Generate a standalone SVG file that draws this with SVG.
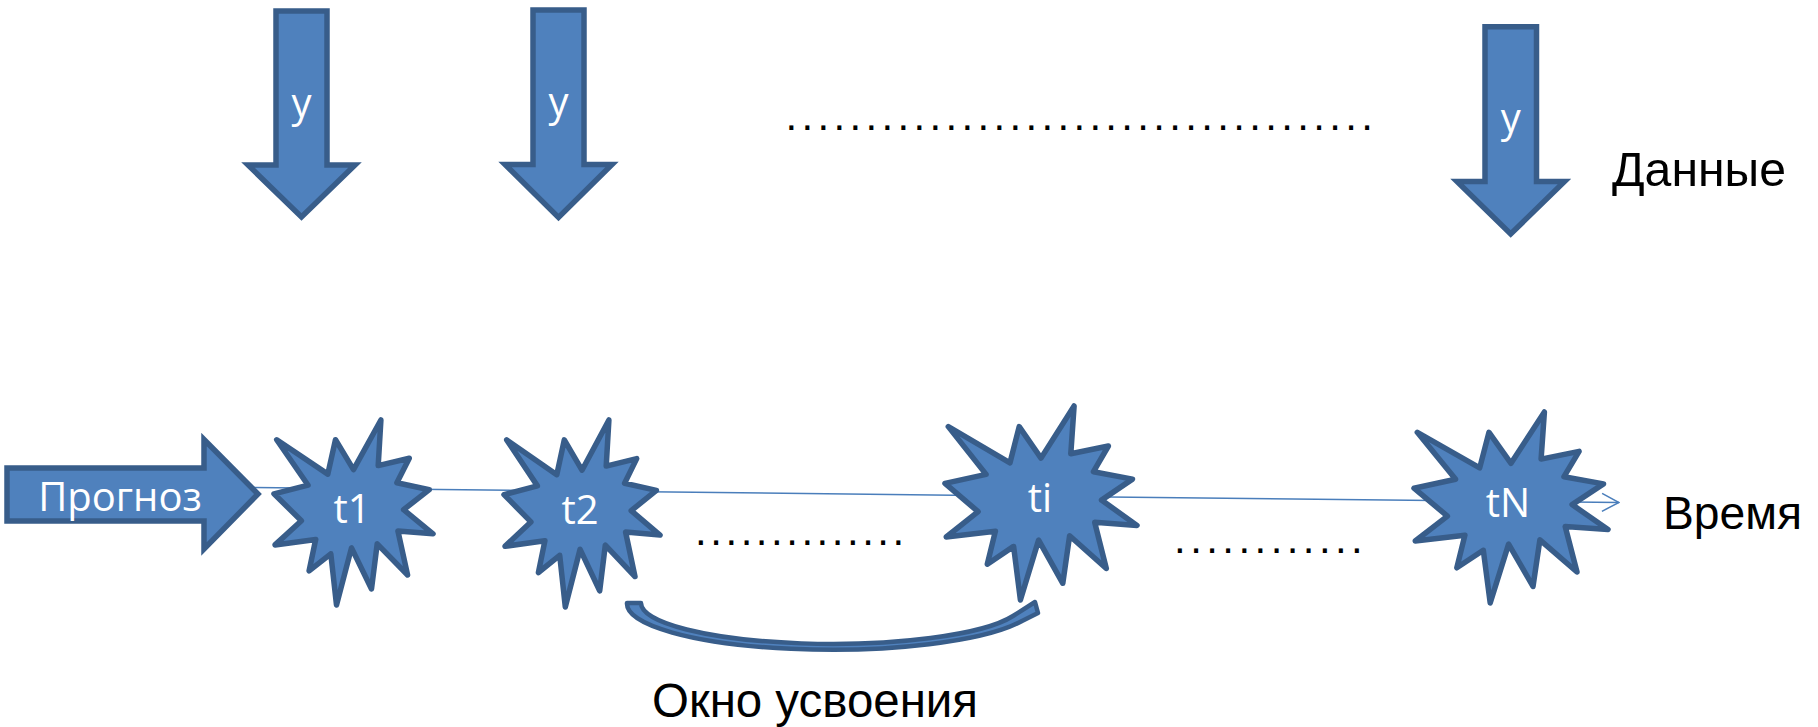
<svg xmlns="http://www.w3.org/2000/svg" width="1818" height="727" viewBox="0 0 1818 727">
<style>
.shape{fill:#4F81BD;stroke:#385D8A;stroke-width:5.5;stroke-linejoin:miter}
.star{fill:#4F81BD;stroke:#385D8A;stroke-width:5.5;stroke-linejoin:round}
.wl{font-family:"Open Sans","Noto Sans",sans-serif;font-size:40px;fill:#FFFFFF;text-anchor:middle}
.bl{font-family:"Liberation Sans",Arial,sans-serif;fill:#000000}
.dots{font-family:"Liberation Sans",Arial,sans-serif;font-size:42px;fill:#000000}
.conn{stroke:#4A7EBB;stroke-width:1.5;fill:none}
</style>
<defs>
<marker id="openArrow" viewBox="0 0 20 20" refX="19" refY="10" markerWidth="20" markerHeight="20" markerUnits="userSpaceOnUse" orient="auto">
<path d="M2,1 L19,10 L2,19" fill="none" stroke="#4A7EBB" stroke-width="1.5"/>
</marker>
</defs>
<rect width="1818" height="727" fill="#FFFFFF"/>

<g id="connectors">
<line class="conn" x1="253" y1="487.5" x2="1619" y2="502.5" marker-end="url(#openArrow)"/>
</g>

<g id="forecast">
<polygon class="shape" points="7,468 204,468 204,439.5 258,494 204,549 204,521 7,521"/>
<text class="wl" x="120" y="511" font-size="40.5">Прогноз</text>
</g>

<g id="data1">
<polygon class="shape" points="276,11 327,11 327,165 355,165 301.5,217 248,165 276,165"/>
<text class="wl" x="301.5" y="117">y</text>
</g>
<g id="data2">
<polygon class="shape" points="533,10 584,10 584,164.5 612,164.5 558.5,217.5 505,164.5 533,164.5"/>
<text class="wl" x="558.5" y="116">y</text>
</g>
<g id="data3">
<polygon class="shape" points="1485,26.7 1536.5,26.7 1536.5,181.5 1564.5,181.5 1510.7,234 1457,181.5 1485,181.5"/>
<text class="wl" x="1510.7" y="132">y</text>
</g>

<g id="t1">
<polygon class="star" points="353.5,469.7 380.9,420 378.2,465.6 409.3,458.2 396.9,482.7 429.3,489.7 403.6,509.7 433,533.8 397.9,530.9 407.6,575 377.2,543.8 371.5,589 351.5,547.9 336.5,605 330.8,553.8 309.1,570.9 315.7,539.4 275,544.9 301.4,520.8 274,493.8 308.1,485.2 276.7,439.7 327.8,474.1 335.5,439.7"/>
<text class="wl" x="352" y="523">t1</text>
</g>
<g id="t2">
<polygon class="star" points="582,470.2 608.9,420 606.2,466.1 636.7,458.6 624.6,483.3 656.4,490.4 631.2,510.7 660,535.1 625.6,532.1 635,576.6 605.3,545.2 599.7,590.9 580.1,549.3 565.3,607 559.7,555.3 538.4,572.5 544.9,540.7 505,546.3 530.9,521.9 504,494.6 537.4,485.9 506.7,439.9 556.8,474.7 564.3,439.9"/>
<text class="wl" x="580" y="524">t2</text>
</g>
<g id="ti">
<polygon class="star" points="1041,458.1 1074.1,406 1070.8,453.8 1108.4,446 1093.5,471.7 1132.5,479.1 1101.5,500.1 1137,525.4 1094.7,522.3 1106.3,568.5 1069.6,535.8 1062.8,583.3 1038.6,540.1 1020.4,600 1013.6,546.4 987.3,564.2 995.4,531.2 946.2,537 978.1,511.7 945,483.4 986.1,474.4 948.3,426.6 1010,462.8 1019.2,426.6"/>
<text class="wl" x="1040" y="512">ti</text>
</g>
<g id="tN">
<polygon class="star" points="1511,463.3 1544.4,412 1541.1,459.1 1579.1,451.4 1564,476.7 1603.5,483.9 1572.1,504.6 1608,529.5 1565.2,526.5 1577,572 1539.9,539.8 1533,586.5 1508.6,544.1 1490.2,603 1483.3,550.2 1456.8,567.8 1464.9,535.2 1415.2,541 1447.4,516.1 1414,488.2 1455.6,479.3 1417.3,432.3 1479.7,467.9 1489,432.3"/>
<text class="wl" x="1508" y="517">tN</text>
</g>

<g id="window">
<path class="star" style="stroke-width:4.5" d="M627,603 A205,46 0 0 0 1022,621 L1038,613 L1035,602 L1013,616 A191,41 0 0 1 641,603 Z"/>
</g>

<g id="labels">
<text class="bl" x="1612" y="186" font-size="48" textLength="174" lengthAdjust="spacingAndGlyphs">Данные</text>
<text class="bl" x="1663" y="529" font-size="47" textLength="139" lengthAdjust="spacingAndGlyphs">Время</text>
<text class="bl" x="652" y="717" font-size="48" textLength="326" lengthAdjust="spacingAndGlyphs">Окно усвоения</text>
<text class="dots" x="785.6" y="129.5" letter-spacing="4.32">.....................................</text>
<text class="dots" x="695.1" y="545" letter-spacing="3.52">..............</text>
<text class="dots" x="1174.1" y="553" letter-spacing="4.42">............</text>
</g>
</svg>
